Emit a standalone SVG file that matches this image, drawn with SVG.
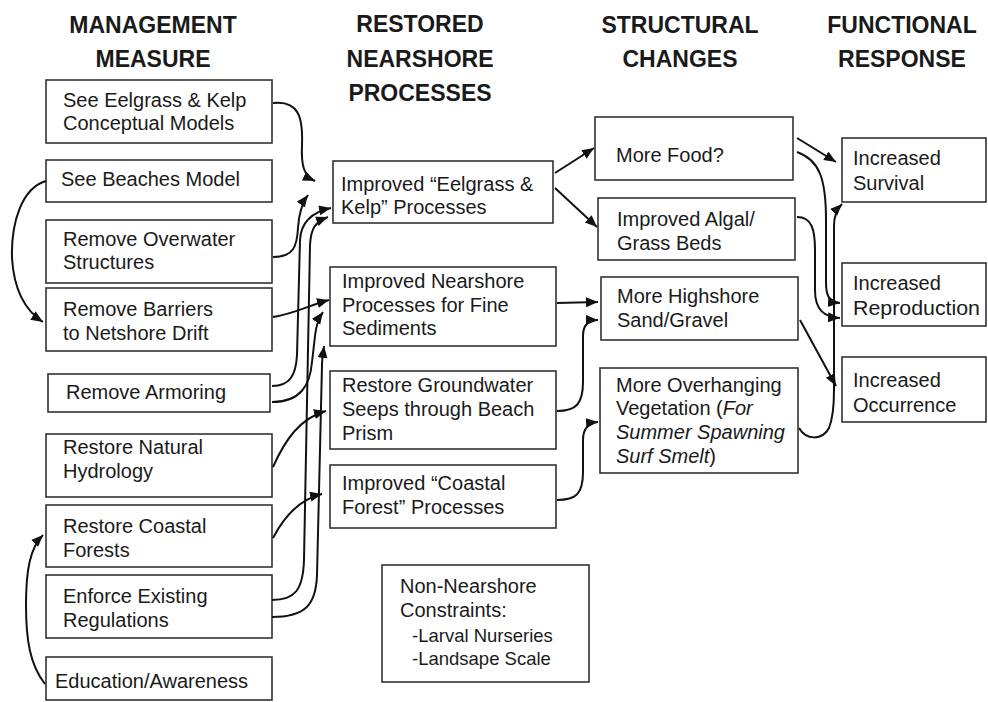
<svg xmlns="http://www.w3.org/2000/svg" width="988" height="702" viewBox="0 0 988 702">
<defs>
<marker id="ah" markerUnits="userSpaceOnUse" markerWidth="14" markerHeight="12" refX="12" refY="5" orient="auto">
<path d="M0,0 L12,5 L0,10 Z" fill="#111"/>
</marker>
<style>
.box{fill:#fff;stroke:#333;stroke-width:1.6}
.t{font-family:"Liberation Sans",Arial,sans-serif;font-size:20px;fill:#1a1a1a}
.s{font-size:18.5px}
.h{font-family:"Liberation Sans",Arial,sans-serif;font-size:23px;font-weight:bold;fill:#1a1a1a;text-anchor:middle}
.c{fill:none;stroke:#111;stroke-width:2;marker-end:url(#ah)}
.i{font-style:italic}
</style>
</defs>
<rect width="988" height="702" fill="#fff"/>

<g id="headers">
<text class="h" x="153" y="33">MANAGEMENT</text>
<text class="h" x="153" y="67">MEASURE</text>
<text class="h" x="420" y="32">RESTORED</text>
<text class="h" x="420" y="67">NEARSHORE</text>
<text class="h" x="420" y="101">PROCESSES</text>
<text class="h" x="680" y="33">STRUCTURAL</text>
<text class="h" x="680" y="67">CHANGES</text>
<text class="h" x="902" y="33">FUNCTIONAL</text>
<text class="h" x="902" y="67">RESPONSE</text>
</g>

<g id="n-see-eelgrass"><rect class="box" x="46" y="80" width="226" height="63"/><text class="t" x="63" y="107">See Eelgrass &amp; Kelp</text><text class="t" x="63" y="130">Conceptual Models</text></g>
<g id="n-see-beaches"><rect class="box" x="46" y="160" width="226" height="42"/><text class="t" x="61" y="186">See Beaches Model</text></g>
<g id="n-overwater"><rect class="box" x="46" y="220" width="226" height="63"/><text class="t" x="63" y="246">Remove Overwater</text><text class="t" x="63" y="269">Structures</text></g>
<g id="n-barriers"><rect class="box" x="46" y="288" width="226" height="63"/><text class="t" x="63" y="316">Remove Barriers</text><text class="t" x="63" y="340">to Netshore Drift</text></g>
<g id="n-armoring"><rect class="box" x="48" y="374" width="222" height="38"/><text class="t" x="66" y="399">Remove Armoring</text></g>
<g id="n-hydrology"><rect class="box" x="46" y="434" width="226" height="63"/><text class="t" x="63" y="454">Restore Natural</text><text class="t" x="63" y="478">Hydrology</text></g>
<g id="n-forests"><rect class="box" x="46" y="505" width="226" height="62"/><text class="t" x="63" y="533">Restore Coastal</text><text class="t" x="63" y="557">Forests</text></g>
<g id="n-enforce"><rect class="box" x="46" y="575" width="226" height="63"/><text class="t" x="63" y="603">Enforce Existing</text><text class="t" x="63" y="627">Regulations</text></g>
<g id="n-education"><rect class="box" x="46" y="657" width="226" height="43"/><text class="t" x="55" y="688">Education/Awareness</text></g>

<g id="n-eelgrass-proc"><rect class="box" x="333" y="161" width="220" height="62"/><text class="t" x="341" y="191">Improved “Eelgrass &amp;</text><text class="t" x="341" y="214">Kelp” Processes</text></g>
<g id="n-nearshore-proc"><rect class="box" x="330" y="267" width="226" height="79"/><text class="t" x="342" y="288">Improved Nearshore</text><text class="t" x="342" y="312">Processes for Fine</text><text class="t" x="342" y="335">Sediments</text></g>
<g id="n-groundwater"><rect class="box" x="330" y="371" width="226" height="78"/><text class="t" x="342" y="392">Restore Groundwater</text><text class="t" x="342" y="416">Seeps through Beach</text><text class="t" x="342" y="440">Prism</text></g>
<g id="n-coastal-proc"><rect class="box" x="330" y="465" width="226" height="63"/><text class="t" x="342" y="490">Improved “Coastal</text><text class="t" x="342" y="514">Forest” Processes</text></g>
<g id="n-constraints"><rect class="box" x="382" y="565" width="207" height="117"/><text class="t" x="400" y="593">Non-Nearshore</text><text class="t" x="400" y="617">Constraints:</text><text class="t s" x="412" y="642">-Larval Nurseries</text><text class="t s" x="412" y="665">-Landsape Scale</text></g>

<g id="n-food"><rect class="box" x="595" y="117" width="198" height="63"/><text class="t" x="616" y="162">More Food?</text></g>
<g id="n-algal"><rect class="box" x="598" y="198" width="197" height="62"/><text class="t" x="617" y="226">Improved Algal/</text><text class="t" x="617" y="250">Grass Beds</text></g>
<g id="n-highshore"><rect class="box" x="601" y="277" width="197" height="63"/><text class="t" x="617" y="303">More Highshore</text><text class="t" x="617" y="327">Sand/Gravel</text></g>
<g id="n-overhanging"><rect class="box" x="600" y="368" width="198" height="105"/><text class="t" x="616" y="392">More Overhanging</text><text class="t" x="616" y="415">Vegetation (<tspan class="i">For</tspan></text><text class="t i" x="616" y="439">Summer Spawning</text><text class="t" x="616" y="463"><tspan class="i">Surf Smelt</tspan>)</text></g>

<g id="n-survival"><rect class="box" x="842" y="138" width="144" height="64"/><text class="t" x="853" y="165">Increased</text><text class="t" x="853" y="190">Survival</text></g>
<g id="n-reproduction"><rect class="box" x="842" y="263" width="144" height="63"/><text class="t" x="853" y="290">Increased</text><text class="t" x="853" y="315" textLength="127" lengthAdjust="spacingAndGlyphs">Reproduction</text></g>
<g id="n-occurrence"><rect class="box" x="842" y="357" width="144" height="65"/><text class="t" x="853" y="387">Increased</text><text class="t" x="853" y="412">Occurrence</text></g>

<g id="connectors">
<path class="c" d="M273,103 C299,100 303,118 302,145 C301,166 304,176 315,181"/>
<path class="c" d="M46,181 C22,188 11,222 12,258 C14,292 26,311 43,322"/>
<path class="c" d="M273,257 C294,257 297,246 298,228 C299,212 302,203 308,195"/>
<path class="c" d="M273,317 C294,314 310,305 329,300"/>
<path class="c" d="M272,386 C290,386 296,375 297,355 L300,240 C301,222 312,212 331,208"/>
<path class="c" d="M272,402 C300,402 310,386 312,362 L315,336 C316,326 318,319 323,312"/>
<path class="c" d="M272,600 C295,600 303,590 304,560 L310,245 C311,228 315,222 328,217"/>
<path class="c" d="M272,617 C305,617 316,605 317,575 L322,365 C322,358 323,354 324,346"/>
<path class="c" d="M273,467 C285,440 300,418 326,411"/>
<path class="c" d="M273,538 C285,515 300,499 322,494"/>
<path class="c" d="M45,684 C30,665 26,640 26,605 C26,570 30,548 43,535"/>

<path class="c" d="M555,173 L594,148"/>
<path class="c" d="M555,188 L597,227"/>
<path class="c" d="M557,303 L598,302"/>
<path class="c" d="M557,411 C576,411 583,404 583,382 L583,336 C583,326 587,320 598,320"/>
<path class="c" d="M557,500 C576,500 583,494 583,472 L583,440 C583,430 587,423 598,422"/>

<path class="c" d="M797,138 L836,162"/>
<path class="c" d="M797,152 C820,160 826,180 826,220 L826,282 C826,296 829,302 840,303"/>
<path class="c" d="M797,217 C812,217 815,230 815,250 L815,290 C815,310 824,317 840,318"/>
<path class="c" d="M800,320 L836,386"/>
<path class="c" d="M799,428 C806,440 822,441 829,428 C833,418 834,405 834,390 L834,226 C834,215 837,209 842,204"/>
</g>
</svg>
